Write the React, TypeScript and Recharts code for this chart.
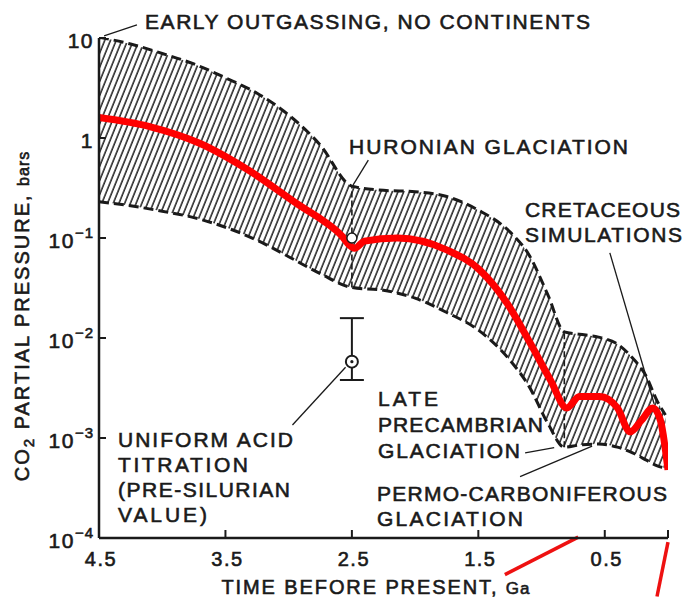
import {
  Area,
  ComposedChart,
  ErrorBar,
  Line,
  ReferenceDot,
  ReferenceLine,
  Scatter,
  XAxis,
  YAxis,
} from "recharts";

// Ga before present, from old to young
const bandAge = [4.5, 4.25, 4.0, 3.75, 3.5, 3.25, 3.0, 2.75, 2.5, 2.25, 2.0, 1.75, 1.5, 1.25, 1.1, 0.95, 0.82, 0.7, 0.55, 0.4, 0.28, 0.17, 0.09, 0.02];
const bandHigh = [10.2, 8.7, 7.0, 5.5, 4.0, 2.8, 1.7, 0.85, 0.33, 0.3, 0.29, 0.26, 0.19, 0.115, 0.068, 0.027, 0.0115, 0.0109, 0.0102, 0.0087, 0.0063, 0.0041, 0.0024, 0.0017];
const bandLow = [0.23, 0.21, 0.185, 0.16, 0.128, 0.095, 0.065, 0.044, 0.032, 0.03, 0.025, 0.018, 0.012, 0.006, 0.0033, 0.0014, 0.00081, 0.00085, 0.00087, 0.00081, 0.00071, 0.0006, 0.00053, 0.0005];

const modelAge = [4.5, 4.1, 3.7, 3.31, 2.91, 2.73, 2.58, 2.52, 2.48, 2.4, 2.14, 1.75, 1.49, 1.27, 1.09, 0.93, 0.8, 0.7, 0.54, 0.4, 0.3, 0.21, 0.12, 0.06, 0.0];
const modelCO2 = [1.6, 1.3, 0.88, 0.47, 0.21, 0.15, 0.105, 0.085, 0.079, 0.093, 0.1, 0.076, 0.048, 0.022, 0.0089, 0.0038, 0.002, 0.0026, 0.0026, 0.002, 0.00115, 0.0015, 0.002, 0.0015, 0.00048];

// uniform acid titration point (pre-silurian value)
const titrationAge = [2.5];
const titrationCO2 = [0.0058];
const titrationMin = [0.0038];
const titrationMax = [0.0158];

const xTicks = [4.5, 3.5, 2.5, 1.5, 0.5, 0];
const xTickLabels = ["4.5", "3.5", "2.5", "1.5", "0.5", ""];
const yTicks = [10, 1, 0.1, 0.01, 0.001, 0.0001];
const yTickBase = ["10", "1", "10", "10", "10", "10"];
const yTickExp = ["", "", "\u22121", "\u22122", "\u22123", "\u22124"];

const band = bandAge.map((t, i) => ({ t, lo: bandLow[i], hi: bandHigh[i] }));
const model = modelAge.map((t, i) => ({ t, v: modelCO2[i] }));
const titration = titrationAge.map((t, i) => ({
  t,
  v: titrationCO2[i],
  err: [titrationCO2[i] - titrationMin[i], titrationMax[i] - titrationCO2[i]],
}));

const INK = "#1a1a1a";
const FONT = "'Liberation Sans', Arial, Helvetica, sans-serif";
const heavy = { stroke: INK, strokeWidth: 0.6 };

function XTick({ x, y, payload }: any) {
  const i = xTicks.indexOf(payload.value);
  return (
    <g>
      {i > 0 && <line x1={x} x2={x} y1={y} y2={y - 8} stroke={INK} strokeWidth={2} />}
      <text x={x + 2} y={y + 28} textAnchor="middle" fontSize={20} fontFamily={FONT} fill={INK} letterSpacing={1.5} {...heavy}>
        {xTickLabels[i]}
      </text>
    </g>
  );
}

function YTick({ x, y, payload }: any) {
  const i = yTicks.indexOf(payload.value);
  return (
    <g>
      {i < yTicks.length - 1 && <line x1={x} x2={x + 7} y1={y} y2={y} stroke={INK} strokeWidth={2} />}
      <text x={x - 5} y={y + 10} textAnchor="end" fontSize={21} fontFamily={FONT} fill={INK} letterSpacing={1.5} {...heavy}>
        <tspan>{yTickBase[i]}</tspan>
        {yTickExp[i] && (
          <tspan dy={-10} fontSize={15} letterSpacing={1}>
            {yTickExp[i]}
          </tspan>
        )}
      </text>
    </g>
  );
}

function Note({ x, y, w, children }: { x: number; y: number; w: number; children: string }) {
  return (
    <text x={x} y={y} textLength={w} lengthAdjust="spacing" fontSize={21} fontFamily={FONT} fill={INK} {...heavy}>
      {children}
    </text>
  );
}

export default function App() {
  return (
    <div style={{ position: "absolute", left: 0, top: 0, width: 688, height: 597, background: "#fff" }}>
      <ComposedChart
        width={688}
        height={597}
        margin={{ top: 38, right: 20, left: 39, bottom: 29 }}
      >
        <defs>
          <pattern id="hatch" patternUnits="userSpaceOnUse" width={5.3} height={10} patternTransform="rotate(22)">
            <line x1={1} y1={0} x2={1} y2={10} stroke="#2b2b2b" strokeWidth={1.6} />
          </pattern>
        </defs>
        <XAxis
          type="number"
          dataKey="t"
          domain={[0, 4.5]}
          reversed
          allowDataOverflow
          ticks={xTicks}
          tick={<XTick />}
          tickSize={0}
          tickMargin={0}
          axisLine={{ stroke: INK, strokeWidth: 2.5 }}
          height={30}
        />
        <YAxis
          type="number"
          scale="log"
          domain={[0.0001, 10]}
          allowDataOverflow
          ticks={yTicks}
          tick={<YTick />}
          tickSize={0}
          tickMargin={0}
          axisLine={{ stroke: INK, strokeWidth: 2.5 }}
          width={60}
        />
        <Area
          data={band}
          dataKey={(d: any) => [d.lo, d.hi]}
          type="monotone"
          stroke="none"
          fill="url(#hatch)"
          fillOpacity={1}
          isAnimationActive={false}
        />
        <Line data={band} dataKey="hi" type="monotone" stroke={INK} strokeWidth={3} strokeDasharray="10 5" dot={false} isAnimationActive={false} />
        <Line data={band} dataKey="lo" type="monotone" stroke={INK} strokeWidth={3} strokeDasharray="10 5" dot={false} isAnimationActive={false} />
        <ReferenceLine segment={[{ x: 2.5, y: 0.032 }, { x: 2.5, y: 0.33 }]} stroke={INK} strokeWidth={1.6} strokeDasharray="6 3" ifOverflow="visible" />
        <ReferenceLine segment={[{ x: 0.82, y: 0.00081 }, { x: 0.82, y: 0.0115 }]} stroke={INK} strokeWidth={1.6} strokeDasharray="6 3" ifOverflow="visible" />

        {/* leader lines */}
        <ReferenceLine segment={[{ x: 4.46, y: 10.5 }, { x: 4.2, y: 13.5 }]} stroke={INK} strokeWidth={1.3} ifOverflow="visible" />
        <ReferenceLine segment={[{ x: 2.37, y: 0.6 }, { x: 2.49, y: 0.34 }]} stroke={INK} strokeWidth={1.3} ifOverflow="visible" />
        <ReferenceLine segment={[{ x: 0.46, y: 0.071 }, { x: 0.11, y: 0.0022 }]} stroke={INK} strokeWidth={1.3} ifOverflow="visible" />
        <ReferenceLine segment={[{ x: 2.97, y: 0.00135 }, { x: 2.55, y: 0.0051 }]} stroke={INK} strokeWidth={1.3} ifOverflow="visible" />
        <ReferenceLine segment={[{ x: 1.13, y: 0.00071 }, { x: 0.9, y: 0.0008 }]} stroke={INK} strokeWidth={1.3} ifOverflow="visible" />
        <ReferenceLine segment={[{ x: 1.17, y: 0.00041 }, { x: 0.6, y: 0.00083 }]} stroke={INK} strokeWidth={1.3} ifOverflow="visible" />

        <ReferenceDot x={2.5} y={0.1} r={5} fill="#fff" stroke={INK} strokeWidth={1.5} ifOverflow="visible" />

        <Line data={model} dataKey="v" type="monotone" stroke="#ff0000" strokeWidth={7} dot={false} isAnimationActive={false} />

        <Scatter
          data={titration}
          dataKey="v"
          isAnimationActive={false}
          shape={(p: any) => (
            <g>
              <circle cx={p.cx} cy={p.cy} r={6} fill="#fff" stroke={INK} strokeWidth={2} />
              <circle cx={p.cx} cy={p.cy} r={1.6} fill={INK} />
            </g>
          )}
        >
          <ErrorBar dataKey="err" direction="y" width={12} stroke={INK} strokeWidth={2} />
        </Scatter>

        {/* red marks below the axis */}
        <ReferenceLine segment={[{ x: 1.29, y: 0.000043 }, { x: 0.71, y: 0.000102 }]} stroke="#ee1111" strokeWidth={3.5} ifOverflow="visible" />
        <ReferenceLine segment={[{ x: 0, y: 0.000091 }, { x: 0.087, y: 0.000026 }]} stroke="#ee1111" strokeWidth={3.5} ifOverflow="visible" />
      </ComposedChart>

      <svg width={688} height={597} style={{ position: "absolute", left: 0, top: 0, pointerEvents: "none" }}>
        <Note x={145} y={29} w={445}>EARLY OUTGASSING, NO CONTINENTS</Note>
        <Note x={349} y={154} w={279}>HURONIAN GLACIATION</Note>
        <Note x={525} y={217} w={155}>CRETACEOUS</Note>
        <Note x={525} y={242} w={157}>SIMULATIONS</Note>
        <Note x={378} y={406} w={60}>LATE</Note>
        <Note x={378} y={432} w={165}>PRECAMBRIAN</Note>
        <Note x={378} y={458} w={142}>GLACIATION</Note>
        <Note x={377} y={501} w={290}>PERMO-CARBONIFEROUS</Note>
        <Note x={377} y={526} w={146}>GLACIATION</Note>
        <Note x={118} y={447} w={175}>UNIFORM ACID</Note>
        <Note x={118} y={472} w={130}>TITRATION</Note>
        <Note x={118} y={497} w={172}>(PRE-SILURIAN</Note>
        <Note x={118} y={522} w={89}>VALUE)</Note>

        <text
          transform="translate(29 316) rotate(-90)"
          textAnchor="middle"
          fontSize={20}
          fontFamily={FONT}
          fill={INK}
          letterSpacing={2}
          {...heavy}
        >
          <tspan>CO</tspan>
          <tspan dy={5} fontSize={15}>2</tspan>
          <tspan dy={-5}> PARTIAL PRESSURE, </tspan>
          <tspan fontSize={16} letterSpacing={1}>bars</tspan>
        </text>
        <text x={376} y={594} textAnchor="middle" fontSize={20} fontFamily={FONT} fill={INK} letterSpacing={1.9} {...heavy}>
          TIME BEFORE PRESENT, <tspan fontSize={17} letterSpacing={1}>Ga</tspan>
        </text>
      </svg>
    </div>
  );
}
